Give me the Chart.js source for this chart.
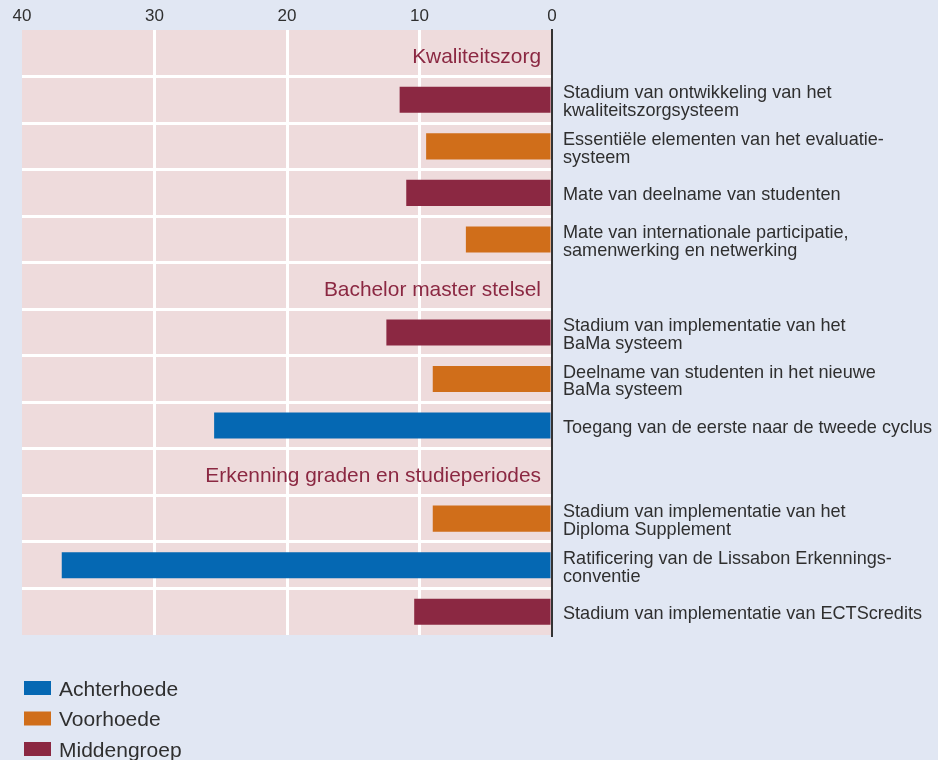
<!DOCTYPE html>
<html>
<head>
<meta charset="utf-8">
<script src="https://cdn.jsdelivr.net/npm/chart.js@4.4.1/dist/chart.umd.min.js"></script>
<style>
  html, body { margin: 0; padding: 0; background: #e1e7f3; }
  #wrap { width: 938px; height: 760px; position: relative; }
</style>
</head>
<body>
<div id="wrap"><canvas id="chart" width="938" height="760"></canvas></div>
<script>
// Row labels (section rows carry no axis label; their title is drawn inside the plot)
const rowLabels = [
  '',
  ['Stadium van ontwikkeling van het', 'kwaliteitszorgsysteem'],
  ['Essentiële elementen van het evaluatie-', 'systeem'],
  'Mate van deelname van studenten',
  ['Mate van internationale participatie,', 'samenwerking en netwerking'],
  '',
  ['Stadium van implementatie van het', 'BaMa systeem'],
  ['Deelname van studenten in het nieuwe', 'BaMa systeem'],
  'Toegang van de eerste naar de tweede cyclus',
  '',
  ['Stadium van implementatie van het', 'Diploma Supplement'],
  ['Ratificering van de Lissabon Erkennings-', 'conventie'],
  'Stadium van implementatie van ECTScredits'
];

const sectionTitles = [
  'Kwaliteitszorg', null, null, null, null,
  'Bachelor master stelsel', null, null, null,
  'Erkenning graden en studieperiodes', null, null, null
];

const achterhoede = [null, null, null, null, null, null, null, null, 25.5, null, null, 37, null];
const voorhoede   = [null, null, 9.5, null, 6.5, null, null, 9.0, null, null, 9.0, null, null];
const middengroep = [null, 11.5, null, 11.0, null, null, 12.5, null, null, null, null, null, 10.4];

const seriesNames  = ['Achterhoede', 'Voorhoede', 'Middengroep'];
const seriesColors = ['#0568b3', '#d06e1a', '#8b2842'];
const xTickValues  = [0, 10, 20, 30, 40];

const PAGE_BG = '#e1e7f3';
const PLOT_BG = '#eedbdc';
const TEXT = '#2f2f2f';

const backgroundPlugin = {
  id: 'backgrounds',
  beforeDraw(chart) {
    const { ctx, chartArea: a } = chart;
    ctx.save();
    ctx.fillStyle = PAGE_BG;
    ctx.fillRect(0, 0, chart.width, chart.height);
    ctx.fillStyle = PLOT_BG;
    ctx.fillRect(a.left, a.top, a.right - a.left, a.bottom - a.top);
    ctx.restore();
  }
};

const sectionPlugin = {
  id: 'sectionTitles',
  afterDatasetsDraw(chart) {
    const { ctx, chartArea: a, scales: { y } } = chart;
    ctx.save();
    ctx.font = '20.9px "Liberation Sans", Arial, sans-serif';
    ctx.fillStyle = '#8b2842';
    ctx.textAlign = 'right';
    ctx.textBaseline = 'alphabetic';
    sectionTitles.forEach((t, i) => {
      if (!t) return;
      ctx.fillText(t, a.right - 11, y.getPixelForValue(i) + 10);
    });
    ctx.restore();
  }
};

const legendPlugin = {
  id: 'stackedLegend',
  afterDraw(chart) {
    const { ctx } = chart;
    ctx.save();
    ctx.font = '21px "Liberation Sans", Arial, sans-serif';
    ctx.textAlign = 'left';
    ctx.textBaseline = 'alphabetic';
    seriesNames.forEach((name, i) => {
      const top = 681 + i * 30.5;
      ctx.fillStyle = seriesColors[i];
      ctx.fillRect(24, top, 27, 14);
      ctx.fillStyle = TEXT;
      ctx.fillText(name, 59, top + 14.5);
    });
    ctx.restore();
  }
};

const seriesData = [achterhoede, voorhoede, middengroep];

new Chart(document.getElementById('chart'), {
  type: 'bar',
  data: {
    labels: rowLabels,
    datasets: seriesNames.map((name, i) => ({
      label: name,
      data: seriesData[i],
      backgroundColor: seriesColors[i],
      borderWidth: 0,
      barPercentage: 0.56,
      categoryPercentage: 1.0
    }))
  },
  options: {
    indexAxis: 'y',
    responsive: false,
    devicePixelRatio: 1,
    animation: false,
    layout: { padding: { left: 22, right: 0, top: 0, bottom: 125 } },
    plugins: {
      legend: { display: false },
      tooltip: { enabled: false }
    },
    scales: {
      x: {
        position: 'top',
        reverse: true,
        stacked: true,
        min: 0,
        max: 40,
        afterBuildTicks(scale) { scale.ticks = xTickValues.map(v => ({ value: v })); },
        afterFit(scale) { scale.height = 30; },
        ticks: {
          padding: 3,
          color: TEXT,
          font: { family: '"Liberation Sans", Arial, sans-serif', size: 17 }
        },
        grid: {
          drawTicks: false,
          lineWidth: 3,
          color: c => (c.tick && (c.tick.value === 0 || c.tick.value === 40)) ? 'rgba(0,0,0,0)' : '#ffffff'
        },
        border: { display: false }
      },
      y: {
        position: 'right',
        stacked: true,
        afterFit(scale) { scale.width = 386; },
        ticks: {
          padding: 11,
          labelOffset: 2.5,
          color: TEXT,
          autoSkip: false,
          font: { family: '"Liberation Sans", Arial, sans-serif', size: 18.1, lineHeight: 0.99 }
        },
        grid: {
          offset: true,
          drawTicks: false,
          lineWidth: 3,
          color: c => (c.type !== 'tick' || c.index === 0) ? 'rgba(0,0,0,0)' : '#ffffff'
        },
        border: { display: true, color: '#333333', width: 2 }
      }
    }
  },
  plugins: [backgroundPlugin, sectionPlugin, legendPlugin]
});
</script>
</body>
</html>
